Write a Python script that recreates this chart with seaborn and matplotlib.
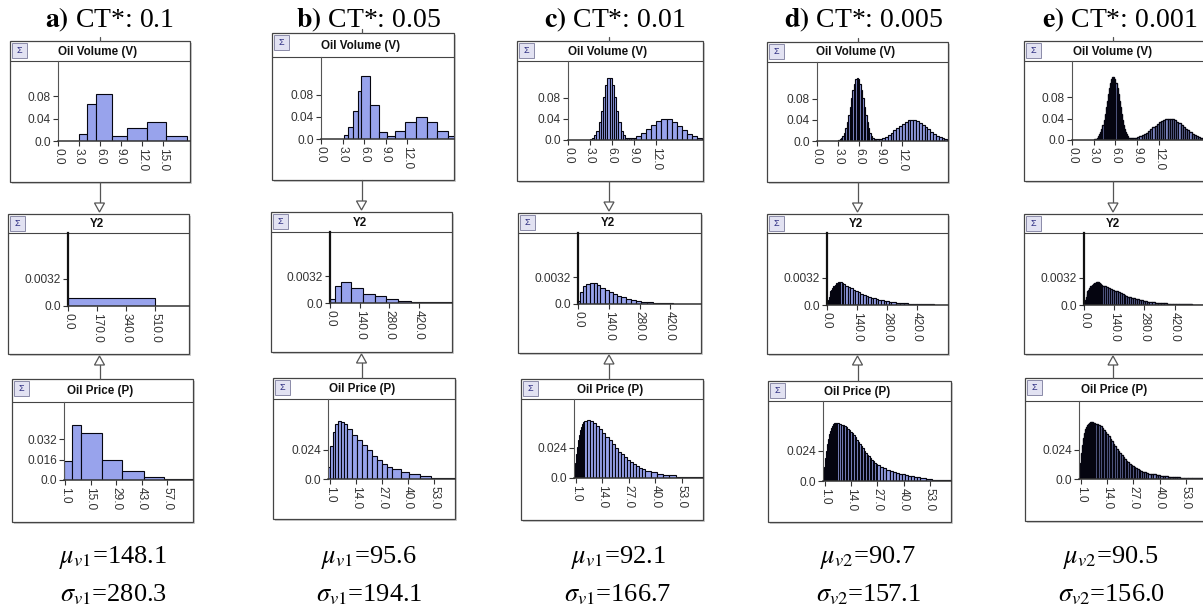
import numpy as np
import pandas as pd
import seaborn as sns
import matplotlib.pyplot as plt
from matplotlib.patches import Rectangle, Polygon

sns.set_theme(style='white')
plt.rcParams['font.family'] = ['Liberation Sans', 'DejaVu Sans']
plt.rcParams['mathtext.fontset'] = 'stix'

# ---------------- data ----------------
panel_letters = ['a)', 'b)', 'c)', 'd)', 'e)']
ct_values = ['0.1', '0.05', '0.01', '0.005', '0.001']
stat_subs = ['v1', 'v1', 'v1', 'v2', 'v2']
mu_values = ['148.1', '95.6', '92.1', '90.7', '90.5']
sigma_values = ['280.3', '194.1', '166.7', '157.1', '156.0']
node_names = ['Oil Volume (V)', 'Y2', 'Oil Price (P)']


def grid(*segs):
    # bin edges of the discretisation, built from (start, stop, step) pieces
    pts = []
    for a, b, s in segs:
        n = int(round((b - a) / s))
        pts.extend(np.linspace(a, b, n + 1)[:-1])
    pts.append(segs[-1][1])
    return [float(p) for p in pts]


# Oil Volume (V)
vol_edges_a = [3.05, 4.2, 5.4, 7.8, 9.9, 12.7, 15.5, 18.4]
vol_heights_a = [0.0125, 0.066, 0.084, 0.009, 0.023, 0.034, 0.009]
vol_edges_b = [3.2, 3.8, 4.5, 5.1, 5.6, 6.8, 8.0, 9.2, 10.3, 11.7, 13.2, 14.7, 16.2, 17.7, 18.6]
vol_heights_b = [0.007, 0.021, 0.05, 0.087, 0.113, 0.061, 0.012, 0.0055, 0.015, 0.031, 0.039,
                 0.031, 0.015, 0.0055]
vol_edges_c = grid((3.0, 8.4, 0.3), (8.4, 9.3, 0.3), (9.3, 18.4, 0.7))
vol_heights_c = [0.0013, 0.0036, 0.0086, 0.018, 0.034, 0.056, 0.081, 0.104, 0.118,
                 0.118, 0.104, 0.081, 0.056, 0.034, 0.018, 0.0086, 0.0036, 0.003,
                 0.003, 0.003, 0.004,
                 0.008, 0.014, 0.021, 0.029, 0.036, 0.040, 0.039, 0.034, 0.027, 0.019, 0.012,
                 0.007, 0.0034]
vol_edges_d = grid((3.0, 8.4, 0.2), (8.4, 18.4, 0.4))
vol_heights_d = [0.002, 0.003, 0.006, 0.010, 0.016, 0.025, 0.036, 0.049, 0.065, 0.081, 0.096,
                 0.109, 0.117, 0.120, 0.117, 0.109, 0.096, 0.081, 0.065, 0.049, 0.036, 0.025,
                 0.016, 0.010, 0.006, 0.004, 0.003,
                 0.003, 0.004, 0.006, 0.008, 0.012, 0.015, 0.020, 0.024, 0.029, 0.033, 0.036,
                 0.039, 0.040, 0.040, 0.038, 0.035, 0.031, 0.026, 0.022, 0.017, 0.013, 0.010,
                 0.007, 0.005, 0.003]
vol_edges_e = grid((3.0, 8.4, 0.15), (8.4, 18.6, 0.3))
vol_heights_e = [0.001, 0.0017, 0.0028, 0.0045, 0.0069, 0.0104, 0.0151, 0.0212, 0.0289, 0.0383,
                 0.0491, 0.0611, 0.0737, 0.0861, 0.0975, 0.107, 0.114, 0.1175,
                 0.1175, 0.114, 0.107, 0.0975, 0.0861, 0.0737, 0.0611, 0.0491, 0.0383, 0.0289,
                 0.0212, 0.0151, 0.0104, 0.0069, 0.0045, 0.003, 0.003, 0.003,
                 0.003, 0.0038, 0.0051, 0.0068, 0.0088, 0.0112, 0.0139, 0.0169, 0.0202, 0.0237,
                 0.0271, 0.0304, 0.0335, 0.0361, 0.0381, 0.0394, 0.040, 0.0397, 0.0386, 0.0368,
                 0.0344, 0.0315, 0.0282, 0.0248, 0.0214, 0.018, 0.0149, 0.012, 0.0096, 0.0074,
                 0.0057, 0.0042, 0.0031, 0.0022]

# Y2
y2_edges_a = [0, 510]
y2_heights_a = [0.00095]
y2_edges_b = [0, 22, 50, 101, 156, 214, 266, 322, 380, 440, 574]
y2_heights_b = [0.0005, 0.00203, 0.00246, 0.00183, 0.0011, 0.00078, 0.00043, 0.00027,
                0.00016, 0.00008]
y2_edges_c = [0, 10.7, 22.8, 38, 53, 71.5, 86.7, 102, 121.7, 140, 159.8, 178, 197.8, 220.7,
              243.5, 266, 289, 315, 342, 373, 434, 563]
y2_heights_c = [0.00035, 0.00144, 0.00215, 0.00242, 0.00254, 0.0025, 0.00222, 0.00191,
                0.00172, 0.00144, 0.00121, 0.00098, 0.00078, 0.00062, 0.00047, 0.00035,
                0.00027, 0.0002, 0.00016, 0.00012, 0.00005]
y2_edges_d = grid((0, 60, 4), (60, 84, 8), (84, 300, 12), (300, 440, 20), (440, 560, 60))
y2_heights_d = [0.0002, 0.0006, 0.001, 0.0013, 0.0016, 0.0018, 0.002, 0.0022, 0.0023, 0.0024,
                0.0025, 0.00255, 0.0026, 0.0027, 0.0027,
                0.0027, 0.0026, 0.0025,
                0.0023, 0.00215, 0.002, 0.0018, 0.00165, 0.0015, 0.00135, 0.0012, 0.00108,
                0.00097, 0.00087, 0.00078, 0.0007, 0.00062, 0.00055, 0.00049, 0.00043, 0.00038,
                0.00033, 0.00028, 0.00023, 0.0002, 0.00016, 0.00013, 0.00011,
                0.00008, 0.00005]
y2_edges_e = grid((0, 84, 4), (84, 300, 9), (300, 440, 14), (440, 560, 60))
y2_heights_e = [0.0002, 0.0006, 0.001, 0.0013, 0.0016, 0.0018, 0.002, 0.0022, 0.0023, 0.0024,
                0.0025, 0.00255, 0.0026, 0.0026, 0.0027, 0.0027, 0.0027, 0.0026, 0.0026, 0.0025,
                0.0024,
                0.0023, 0.0022, 0.0021, 0.002, 0.0019, 0.0018, 0.0017, 0.0016, 0.0015, 0.0014,
                0.0013, 0.0012, 0.0011, 0.001, 0.00093, 0.00086, 0.00079, 0.00072, 0.00066,
                0.0006, 0.00055, 0.0005, 0.00045, 0.0004,
                0.00035, 0.00031, 0.00027, 0.00024, 0.00021, 0.00018, 0.00016, 0.00014,
                0.00012, 0.0001,
                0.00008, 0.00005]

# Oil Price (P)
price_edges_a = [0.5, 5, 10, 21, 32, 44, 55, 71]
price_heights_a = [0.0152, 0.0432, 0.0368, 0.0158, 0.0069, 0.0025, 0.0006]
price_edges_b = [0, 1.2, 2.5, 3.7, 5.0, 6.4, 7.9, 9.5, 12.1, 14.6, 17.1, 19.6, 22.1, 24.6, 27.1,
                 29.6, 32.2, 36.3, 40.5, 46.1, 51.4, 63.5]
price_heights_b = [0.010, 0.027, 0.039, 0.045, 0.048, 0.047, 0.045, 0.041, 0.036, 0.032, 0.028,
                   0.024, 0.019, 0.016, 0.012, 0.0097, 0.0085, 0.0055, 0.0042, 0.0022, 0.0008]
price_edges_c = grid((0, 5, 0.5), (5, 35, 1.5), (35, 50, 3), (50, 63.5, 13.5))
price_heights_c = [0.004, 0.012, 0.019, 0.025, 0.030, 0.034, 0.038, 0.041, 0.043, 0.0445,
                   0.0455, 0.046, 0.0455, 0.044, 0.0415, 0.039, 0.036, 0.033, 0.030, 0.027,
                   0.024, 0.021, 0.019, 0.0165, 0.0145, 0.0125, 0.011, 0.0095, 0.0082, 0.007,
                   0.0058, 0.0045, 0.0034, 0.0026, 0.002,
                   0.0008]
price_edges_d = grid((0, 7, 0.5), (7, 9, 1), (9, 27, 0.75), (27, 48, 1.5), (48, 54, 3),
                     (54, 63.5, 9.5))
price_heights_d = [0.004, 0.011, 0.018, 0.024, 0.029, 0.033, 0.037, 0.040, 0.042, 0.044, 0.045,
                   0.046, 0.046, 0.046,
                   0.046, 0.0455,
                   0.0448, 0.0442, 0.0435, 0.0426, 0.0416, 0.0405, 0.0392, 0.0378, 0.0362,
                   0.0346, 0.0329, 0.0312, 0.0295, 0.0277, 0.0259, 0.0242, 0.0226, 0.021,
                   0.0195, 0.0181, 0.0168, 0.0156, 0.0145, 0.0135,
                   0.0124, 0.0112, 0.0101, 0.0091, 0.0082, 0.0074, 0.0066, 0.0059, 0.0053,
                   0.0047, 0.0042, 0.0037, 0.0033, 0.0029,
                   0.0024, 0.0019,
                   0.0009]
price_edges_e = grid((0, 8, 0.5), (8, 32, 0.8), (32, 50, 1.2), (50, 56, 2), (56, 63.5, 7.5))
price_heights_e = [0.005, 0.013, 0.021, 0.028, 0.034, 0.038, 0.041, 0.043, 0.0445, 0.0455,
                   0.046, 0.0465, 0.0465, 0.0465, 0.046, 0.0457,
                   0.0455, 0.045, 0.0442, 0.0432, 0.042, 0.0405, 0.0388, 0.037, 0.035, 0.033,
                   0.031, 0.029, 0.027, 0.025, 0.023, 0.0212, 0.0195, 0.0179, 0.0164, 0.015,
                   0.0137, 0.0125, 0.0114, 0.0104, 0.0095, 0.0087, 0.0079, 0.0072, 0.0066,
                   0.006,
                   0.0055, 0.005, 0.0045, 0.0041, 0.0037, 0.0033, 0.003, 0.0027, 0.0024,
                   0.0022, 0.002, 0.0018, 0.0016, 0.0014, 0.0013,
                   0.0011, 0.001, 0.0009,
                   0.0007]

vol_data = [(vol_edges_a, vol_heights_a), (vol_edges_b, vol_heights_b),
            (vol_edges_c, vol_heights_c), (vol_edges_d, vol_heights_d),
            (vol_edges_e, vol_heights_e)]
y2_data = [(y2_edges_a, y2_heights_a), (y2_edges_b, y2_heights_b), (y2_edges_c, y2_heights_c),
           (y2_edges_d, y2_heights_d), (y2_edges_e, y2_heights_e)]
price_data = [(price_edges_a, price_heights_a), (price_edges_b, price_heights_b),
              (price_edges_c, price_heights_c), (price_edges_d, price_heights_d),
              (price_edges_e, price_heights_e)]

vol_xticks = [[0, 3, 6, 9, 12, 15]] + [[0, 3, 6, 9, 12]] * 4
y2_xticks = [[0, 170, 340, 510]] + [[0, 140, 280, 420]] * 4
price_xticks = [[1, 15, 29, 43, 57]] + [[1, 14, 27, 40, 53]] * 4
vol_yticks = [0, 0.04, 0.08]
y2_yticks = [0, 0.0032]
price_yticks = [[0, 0.016, 0.032]] + [[0, 0.024]] * 4

# ---------------- layout (pixels) ----------------
W, H = 1203, 611
# per column, per node: left, right, top, header bottom, baseline, bottom, y-axis x
geom = [
    [(10, 190, 41, 61, 141, 182, 58), (8, 189, 214, 233, 306, 354, 68),
     (12, 193, 379, 402, 480, 522, 64)],
    [(272, 454, 33, 57, 139, 180, 321), (271, 452, 212, 232, 303, 352, 330),
     (273, 455, 378, 399, 479, 519, 328)],
    [(517, 703, 41, 61, 140, 181, 568), (518, 701, 213, 233, 304, 353, 578),
     (521, 703, 379, 399, 478, 520, 574)],
    [(767, 948, 42, 62, 141, 182, 817), (767, 948, 214, 233, 305, 354, 827),
     (768, 951, 381, 401, 481, 522, 823)],
    [(1024, 1206, 41, 61, 140, 181, 1072), (1024, 1206, 214, 233, 305, 354, 1084),
     (1025, 1207, 378, 401, 479, 521, 1079)],
]
vol_xlim = [18.9, 18.5, 18.5, 18.5, 18.5]
y2_xlim = [707, 575, 560, 565, 565]
price_xlim = [(0.5, 71), (0, 63.5), (0, 63.5), (0, 63.5), (0, 63.5)]
vol_ylim = [0.143, 0.148, 0.15, 0.15, 0.148]
y2_ylim = 0.0085
price_ylim = [0.061, 0.066, 0.063, 0.0635, 0.064]
edge_lw = [0.8, 0.8, 0.8, 0.85, 1.0]
arrow_x = [99.5, 361.5, 609, 857.5, 1113]
title_x = [110, 369, 615, 863, 1120]
stat_x = [113, 369, 618, 868, 1111]

BAR = '#98a3ec'
EDGE = '#050510'
LINE = '#444444'

fig = plt.figure(figsize=(W / 100, H / 100), dpi=100)
ov = fig.add_axes([0, 0, 1, 1], zorder=0)
ov.set_xlim(0, W)
ov.set_ylim(H, 0)
ov.axis('off')


def draw_box(L, R, T, hb, B, name):
    ov.add_patch(Rectangle((L + 2, T + 2), R - L, B - T, facecolor='#cfcfcf',
                           edgecolor='none', zorder=1))
    ov.add_patch(Rectangle((L, T), R - L, B - T, facecolor='white', edgecolor=LINE,
                           lw=0.9, zorder=2))
    ov.plot([L, R], [hb, hb], color=LINE, lw=0.8, zorder=3)
    bs = min(15, hb - T - 4)
    ov.add_patch(Rectangle((L + 2, T + 2), bs, bs, facecolor='#e2e2f2', edgecolor='#8a8aa8',
                           lw=0.7, zorder=3))
    ov.text(L + 2 + bs / 2, T + 2 + bs / 2, 'Σ', fontsize=6.5, color='#2a2a80',
            ha='center', va='center', zorder=4)
    ov.text((L + R) / 2 - 2, (T + hb) / 2 + 0.5, name, fontsize=8.4, fontweight='bold',
            ha='center', va='center', color='#111111', zorder=4)


def draw_hist(g, data, xlim, ylim, xticks, yticks, ylabels, lw, ythick=False):
    L, R, T, hb, base, B, yx = g
    ax = fig.add_axes([yx / W, 1 - base / H, (R - yx) / W, (base - hb) / H], zorder=5)
    ax.patch.set_alpha(0)
    edges = list(data[0])
    df = pd.DataFrame({'x': [(edges[k] + edges[k + 1]) / 2 for k in range(len(edges) - 1)],
                       'h': list(data[1])})
    sns.histplot(data=df, x='x', weights='h', bins=edges, ax=ax, color=BAR, edgecolor=EDGE,
                 linewidth=lw, alpha=1)
    ax.set_xlim(*xlim)
    ax.set_ylim(0, ylim)
    ax.set_xlabel('')
    ax.set_ylabel('')
    ax.set_xticks(xticks, labels=[f'{t:.1f}' for t in xticks])
    ax.set_yticks(yticks, labels=ylabels)
    for s in ['top', 'right']:
        ax.spines[s].set_visible(False)
    ax.spines['bottom'].set_color('#333333')
    ax.spines['bottom'].set_linewidth(1.1)
    if ythick:
        ax.spines['left'].set_color('#111111')
        ax.spines['left'].set_linewidth(1.6)
    else:
        ax.spines['left'].set_color('#555555')
        ax.spines['left'].set_linewidth(0.8)
    ax.tick_params(axis='both', direction='out', length=3.5, width=0.8, color='#333333',
                   labelsize=8.6, labelcolor='#333333', pad=1.5, bottom=True, left=True)
    for lab in ax.get_xticklabels():
        lab.set_rotation(270)
        lab.set_va('top')
        lab.set_ha('center')
    return ax


for i in range(5):
    gv, gy, gp = geom[i]
    draw_box(gv[0], gv[1], gv[2], gv[3], gv[5], node_names[0])
    draw_box(gy[0], gy[1], gy[2], gy[3], gy[5], node_names[1])
    draw_box(gp[0], gp[1], gp[2], gp[3], gp[5], node_names[2])

    draw_hist(gv, vol_data[i], (0, vol_xlim[i]), vol_ylim[i], vol_xticks[i], vol_yticks,
              ['0.0', '0.04', '0.08'], edge_lw[i])
    draw_hist(gy, y2_data[i], (0, y2_xlim[i]), y2_ylim, y2_xticks[i], y2_yticks,
              ['0.0', '0.0032'], edge_lw[i], ythick=True)
    plab = ['0.0', '0.016', '0.032'] if i == 0 else ['0.0', '0.024']
    draw_hist(gp, price_data[i], price_xlim[i], price_ylim[i], price_xticks[i],
              price_yticks[i], plab, edge_lw[i])

    # arcs between nodes
    cx = arrow_x[i]
    ov.plot([cx, cx], [gv[2] - 4, gv[2]], color='#555555', lw=0.9, zorder=3)
    ov.plot([cx, cx], [gv[5], gy[2] - 10], color='#555555', lw=0.9, zorder=3)
    ov.add_patch(Polygon([(cx - 5, gy[2] - 11), (cx + 5, gy[2] - 11), (cx, gy[2] - 2)],
                         closed=True, facecolor='white', edgecolor='#555555', lw=0.9, zorder=3))
    ov.plot([cx, cx], [gp[2], gy[5] + 10], color='#555555', lw=0.9, zorder=3)
    ov.add_patch(Polygon([(cx - 5, gy[5] + 11), (cx + 5, gy[5] + 11), (cx, gy[5] + 2)],
                         closed=True, facecolor='white', edgecolor='#555555', lw=0.9, zorder=3))

    # captions
    ov.text(title_x[i], 27, rf'$\mathbf{{{panel_letters[i]}}}$ CT*: {ct_values[i]}',
            fontsize=20, family='Liberation Serif', ha='center', va='baseline', color='black')
    ov.text(stat_x[i], 563, rf'$\mu_{{\mathit{{{stat_subs[i]}}}}}$={mu_values[i]}',
            fontsize=19, family='Liberation Serif', ha='center', va='baseline', color='black')
    ov.text(stat_x[i], 601, rf'$\sigma_{{\mathit{{{stat_subs[i]}}}}}$={sigma_values[i]}',
            fontsize=19, family='Liberation Serif', ha='center', va='baseline', color='black')

fig.savefig('out.png', dpi=100, facecolor='white')
